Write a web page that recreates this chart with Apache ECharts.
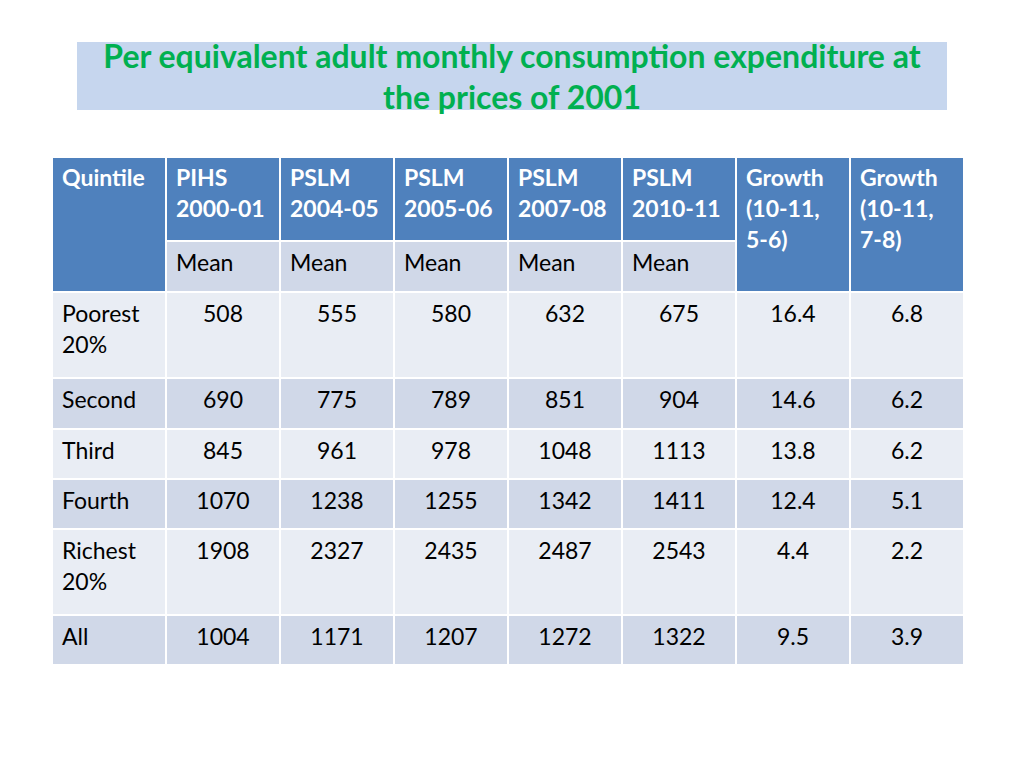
<!DOCTYPE html>
<html>
<head>
<meta charset="utf-8">
<script src="https://cdn.jsdelivr.net/npm/echarts@6/dist/echarts.min.js"></script>
<style>
html,body{margin:0;padding:0;background:#fff;}
#main{width:1024px;height:768px;}
</style>
</head>
<body>
<div id="main"></div>
<script>
// ---- data ----
const titleText = 'Per equivalent adult monthly consumption expenditure at\nthe prices of 2001';
const quintileHeader = 'Quintile';
const surveys = ['PIHS\n2000-01', 'PSLM\n2004-05', 'PSLM\n2005-06', 'PSLM\n2007-08', 'PSLM\n2010-11'];
const subHeader = 'Mean';
const growthHeaders = ['Growth\n(10-11,\n5-6)', 'Growth\n(10-11,\n7-8)'];
const quintiles = ['Poorest\n20%', 'Second', 'Third', 'Fourth', 'Richest\n20%', 'All'];
const pihs2000 = [508, 690, 845, 1070, 1908, 1004];
const pslm2004 = [555, 775, 961, 1238, 2327, 1171];
const pslm2005 = [580, 789, 978, 1255, 2435, 1207];
const pslm2007 = [632, 851, 1048, 1342, 2487, 1272];
const pslm2010 = [675, 904, 1113, 1411, 2543, 1322];
const growth56 = ['16.4', '14.6', '13.8', '12.4', '4.4', '9.5'];
const growth78 = ['6.8', '6.2', '6.2', '5.1', '2.2', '3.9'];

// ---- layout (not data) ----
const rowHeights = [84, 51, 86, 51, 50, 50, 86, 50];
const rowEdges = [0];
rowHeights.forEach(h => rowEdges.push(rowEdges[rowEdges.length - 1] + h));
const BLUE = '#4F81BD', DARKROW = '#D0D8E8', LIGHTROW = '#E9EDF4';
const FONT = 'Lato, "Open Sans", sans-serif';

const cells = [];
function addCell(c0, c1, r0, r1, text, fill, color, bold, align) {
  cells.push({ value: [c0, r0, c1, r1], text: String(text), fill, color, bold, align });
}
addCell(0, 1, 0, 2, quintileHeader, BLUE, '#fff', true, 'left');
surveys.forEach((s, i) => {
  addCell(i + 1, i + 2, 0, 1, s, BLUE, '#fff', true, 'left');
  addCell(i + 1, i + 2, 1, 2, subHeader, DARKROW, '#000', false, 'left');
});
growthHeaders.forEach((g, i) => addCell(6 + i, 7 + i, 0, 2, g, BLUE, '#fff', true, 'left'));
const cols = [pihs2000, pslm2004, pslm2005, pslm2007, pslm2010, growth56, growth78];
quintiles.forEach((q, r) => {
  const fill = r % 2 === 0 ? LIGHTROW : DARKROW;
  addCell(0, 1, r + 2, r + 3, q, fill, '#000', false, 'left');
  cols.forEach((arr, c) => addCell(c + 1, c + 2, r + 2, r + 3, arr[r], fill, '#000', false, 'center'));
});

function renderItem(params, api) {
  const cell = cells[params.dataIndex];
  const p0 = api.coord([api.value(0), rowEdges[api.value(1)]]);
  const p1 = api.coord([api.value(2), rowEdges[api.value(3)]]);
  const x = Math.min(p0[0], p1[0]), y = Math.min(p0[1], p1[1]);
  const w = Math.abs(p1[0] - p0[0]), h = Math.abs(p1[1] - p0[1]);
  return {
    type: 'group',
    children: [
      { type: 'rect', shape: { x, y, width: w, height: h },
        style: { fill: cell.fill, stroke: '#fff', lineWidth: 2 } },
      { type: 'text',
        style: {
          text: cell.text,
          x: cell.align === 'center' ? x + w / 2 : x + 10,
          y: y + (cell.bold ? 4 : 5),
          align: cell.align,
          verticalAlign: 'top',
          fill: cell.color,
          fontFamily: FONT,
          fontSize: 23,
          fontWeight: cell.bold ? 'bold' : 'normal',
          lineHeight: 31
        } }
    ]
  };
}

const chart = echarts.init(document.getElementById('main'), null, { renderer: 'svg' });
chart.setOption({
  animation: false,
  backgroundColor: '#fff',
  title: {
    text: titleText,
    left: 'center',
    top: 30,
    textStyle: { fontFamily: FONT, fontSize: 32, fontWeight: 'bold', color: '#00B050', lineHeight: 41 }
  },
  graphic: [{
    type: 'rect', left: 77, top: 42, z: -10,
    shape: { width: 870, height: 68 },
    style: { fill: '#C6D6EE' }
  }],
  grid: { left: 52, right: 60, top: 157, bottom: 103 },
  xAxis: { type: 'value', min: 0, max: 8, show: false },
  yAxis: { type: 'value', min: 0, max: rowEdges[rowEdges.length - 1], inverse: true, show: false },
  series: [{
    type: 'custom',
    renderItem,
    encode: { x: [0, 2], y: [1, 3] },
    data: cells.map(c => ({ value: c.value })),
    clip: false
  }]
});
</script>
</body>
</html>
